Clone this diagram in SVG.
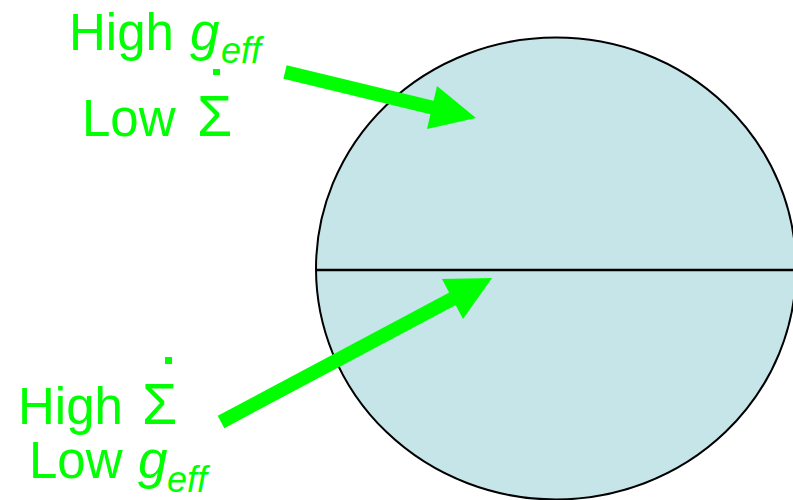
<svg xmlns="http://www.w3.org/2000/svg" width="793" height="500" viewBox="0 0 793 500">
<style>
.lbl{font-family:"Liberation Sans",Arial,sans-serif;font-size:51px;fill:#00FF00}
.it{font-style:italic;font-size:53px}
.sub{font-size:36px;font-style:italic}
.sig{font-size:57px}
.shaft{stroke:#00FF00;stroke-width:14;fill:none}
.head{fill:#00FF00}
</style>
<rect width="793" height="500" fill="#FFFFFF"/>
<g id="sphere">
<ellipse cx="556" cy="268.5" rx="240" ry="231" fill="#C5E5E9" stroke="#000000" stroke-width="2"/>
<line x1="316" y1="270" x2="793" y2="270" stroke="#000000" stroke-width="2.5"/>
</g>
<g id="label-top">
<text class="lbl" x="69" y="50">High<tspan class="it" x="190">g</tspan><tspan class="sub" x="221" y="63">eff</tspan></text>
<rect x="213" y="69" width="7" height="6" fill="#00FF00"/>
<text class="lbl" x="82" y="136">Low<tspan class="sig" x="197">Σ</tspan></text>
</g>
<g id="label-bottom">
<rect x="165" y="357" width="7" height="7" fill="#00FF00"/>
<text class="lbl" x="18" y="424">High<tspan class="sig" x="142">Σ</tspan></text>
<text class="lbl" x="29" y="478">Low<tspan class="it" x="138">g</tspan><tspan class="sub" x="167" y="492">eff</tspan></text>
</g>
<g id="connectors">
<line class="shaft" x1="285" y1="72" x2="434" y2="108"/>
<polygon class="head" points="437,86 476,118 427,129"/>
<line class="shaft" x1="221" y1="422" x2="454" y2="298"/>
<polygon class="head" points="442,279 492,278 463,319"/>
</g>
</svg>
